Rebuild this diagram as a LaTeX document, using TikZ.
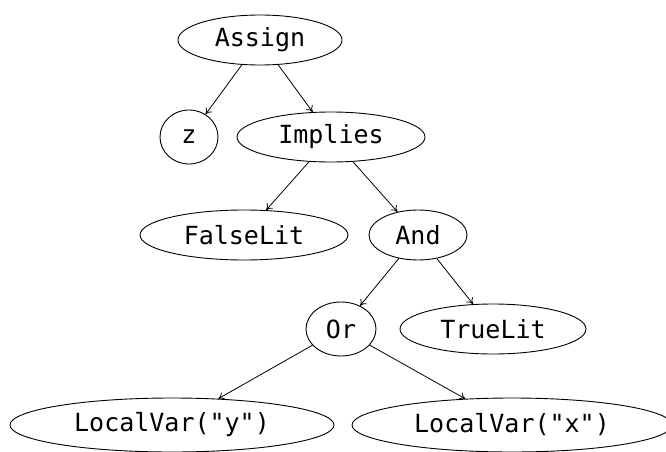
\documentclass[tikz,border=0pt]{standalone}
\usepackage{fontspec}
\setmonofont{DejaVu Sans Mono}
\usetikzlibrary{shapes.geometric,arrows.meta}
\begin{document}
\begin{tikzpicture}[x=1pt,y=-1pt,
  nd/.style={draw,ellipse,inner sep=0pt,line width=0.9pt,
    font=\ttfamily\fontsize{25}{30}\selectfont},
  edge/.style={-{To[length=6pt,width=8pt]},line width=0.8pt}]
\useasboundingbox (0,0) rectangle (666,452);
\clip (0,0) rectangle (666,452);
\node[nd,minimum width=164pt,minimum height=50pt] (assign) at (260,40) {Assign};
\node[nd,minimum width=58pt,minimum height=54pt] (z) at (189,137) {z};
\node[nd,minimum width=188pt,minimum height=50pt] (implies) at (331,137) {Implies};
\node[nd,minimum width=208pt,minimum height=50pt] (false) at (244,235) {FalseLit};
\node[nd,minimum width=98pt,minimum height=50pt] (and) at (418,235) {And};
\node[nd,minimum width=70pt,minimum height=54pt] (or) at (341,329) {Or};
\node[nd,minimum width=186pt,minimum height=50pt] (true) at (493,329) {TrueLit};
\node[nd,minimum width=324pt,minimum height=54pt] (ly) at (172,425) {LocalVar("y")};
\node[nd,minimum width=320pt,minimum height=54pt] (lx) at (512,425) {LocalVar("x")};
\draw[edge] (assign) -- (z);
\draw[edge] (assign) -- (implies);
\draw[edge] (implies) -- (false);
\draw[edge] (implies) -- (and);
\draw[edge] (and) -- (or);
\draw[edge] (and) -- (true);
\draw[edge] (or) -- (ly);
\draw[edge] (or) -- (lx);
\end{tikzpicture}
\end{document}
